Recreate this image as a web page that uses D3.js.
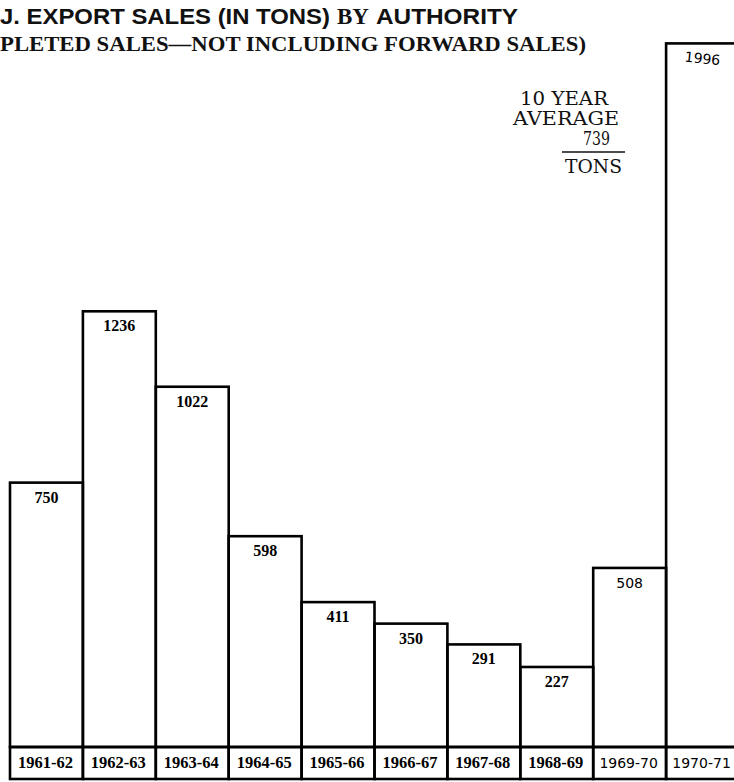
<!DOCTYPE html>
<html>
<head>
<meta charset="utf-8">
<script src="https://cdn.jsdelivr.net/npm/d3@7"></script>
<style>
  body { margin: 0; background: #fff; }
  svg { display: block; }
</style>
</head>
<body>
<div id="chart"></div>
<script>
// data
var seasons = ["1961-62", "1962-63", "1963-64", "1964-65", "1965-66",
               "1966-67", "1967-68", "1968-69", "1969-70", "1970-71"];
var tons = [750, 1236, 1022, 598, 411, 350, 291, 227, 508, 1996];
var averageLines = ["10 YEAR", "AVERAGE", "739", "TONS"];

var svgWidth = 734;
var svgHeight = 782;

var baseY = 747;     // bottom of the bars / top of label row
var rowBottom = 779; // bottom of label row

var svg = d3.select("#chart")
  .append("svg")
  .attr("width", svgWidth)
  .attr("height", svgHeight);

var x = d3.scaleBand()
  .domain(seasons)
  .range([10, 739])
  .padding(0);

var y = d3.scaleLinear()
  .domain([0, 2000])
  .range([baseY, 42]);

// title lines (cut off at the left edge in the original)
svg.append("text")
  .attr("x", 0)
  .attr("y", 24)
  .attr("font-family", "'Liberation Sans', Arial, sans-serif")
  .attr("font-weight", "bold")
  .attr("font-size", 22)
  .attr("textLength", 330)
  .attr("lengthAdjust", "spacingAndGlyphs")
  .attr("fill", "#111")
  .text("J. EXPORT SALES (IN TONS)");

svg.append("text")
  .attr("x", 337)
  .attr("y", 24)
  .attr("font-family", "'Liberation Serif', serif")
  .attr("font-weight", "bold")
  .attr("font-size", 23)
  .attr("fill", "#111")
  .text("BY");

svg.append("text")
  .attr("x", 376)
  .attr("y", 24)
  .attr("font-family", "'Liberation Sans', Arial, sans-serif")
  .attr("font-weight", "bold")
  .attr("font-size", 22)
  .attr("textLength", 142)
  .attr("lengthAdjust", "spacingAndGlyphs")
  .attr("fill", "#111")
  .text("AUTHORITY");

svg.append("text")
  .attr("x", 0)
  .attr("y", 51)
  .attr("font-family", "'Liberation Serif', serif")
  .attr("font-weight", "bold")
  .attr("font-size", 21)
  .attr("textLength", 586)
  .attr("lengthAdjust", "spacingAndGlyphs")
  .attr("fill", "#111")
  .text("PLETED SALES\u2014NOT INCLUDING FORWARD SALES)");

// bars
svg.selectAll("rect.bar")
  .data(tons)
  .enter()
  .append("rect")
  .attr("class", "bar")
  .attr("x", (d, i) => x(seasons[i]))
  .attr("y", d => y(d))
  .attr("width", x.bandwidth())
  .attr("height", d => baseY - y(d))
  .attr("fill", "none")
  .attr("stroke", "#000")
  .attr("stroke-width", 2.6);

// value labels inside the bar tops
svg.selectAll("text.value")
  .data(tons)
  .enter()
  .append("text")
  .attr("class", "value")
  .attr("x", (d, i) => x(seasons[i]) + x.bandwidth() / 2)
  .attr("y", d => y(d) + 20)
  .attr("text-anchor", "middle")
  .attr("font-family", (d, i) => i >= 8 ? "'DejaVu Sans', sans-serif" : "'Liberation Serif', serif")
  .attr("font-size", (d, i) => i >= 8 ? 14 : 16)
  .attr("font-weight", (d, i) => i >= 8 ? "normal" : "bold")
  .attr("transform", (d, i) => i == 9 ? `rotate(6, ${x(seasons[i]) + x.bandwidth() / 2}, ${y(d) + 15})` : null)
  .text(d => d);

// label row boxes
svg.selectAll("rect.cell")
  .data(seasons)
  .enter()
  .append("rect")
  .attr("class", "cell")
  .attr("x", d => x(d))
  .attr("y", baseY)
  .attr("width", x.bandwidth())
  .attr("height", rowBottom - baseY)
  .attr("fill", "none")
  .attr("stroke", "#000")
  .attr("stroke-width", 2.6);

svg.selectAll("text.season")
  .data(seasons)
  .enter()
  .append("text")
  .attr("class", "season")
  .attr("x", d => x(d) + x.bandwidth() / 2 - 1)
  .attr("y", 768)
  .attr("text-anchor", "middle")
  .attr("font-family", (d, i) => i >= 8 ? "'DejaVu Sans', sans-serif" : "'Liberation Serif', serif")
  .attr("font-size", (d, i) => i >= 8 ? 14 : 16.5)
  .attr("font-weight", (d, i) => i >= 8 ? "normal" : "bold")
  .text(d => d);

// 10 year average note
var note = svg.append("g")
  .attr("font-family", "'DejaVu Serif', serif")
  .attr("font-size", 18)
  .attr("fill", "#111")
  .attr("text-anchor", "end");

var noteRight = [608, 619, 610, 622];
var noteBase = [105, 125, 145, 173];
var noteWidth = [88, 106, 27, 57];

note.selectAll("text")
  .data(averageLines)
  .enter()
  .append("text")
  .attr("x", (d, i) => noteRight[i])
  .attr("y", (d, i) => noteBase[i])
  .attr("textLength", (d, i) => noteWidth[i])
  .attr("lengthAdjust", "spacingAndGlyphs")
  .text(d => d);

note.append("line")
  .attr("x1", 562)
  .attr("x2", 625)
  .attr("y1", 152)
  .attr("y2", 152)
  .attr("stroke", "#111")
  .attr("stroke-width", 1.3);
</script>
</body>
</html>
